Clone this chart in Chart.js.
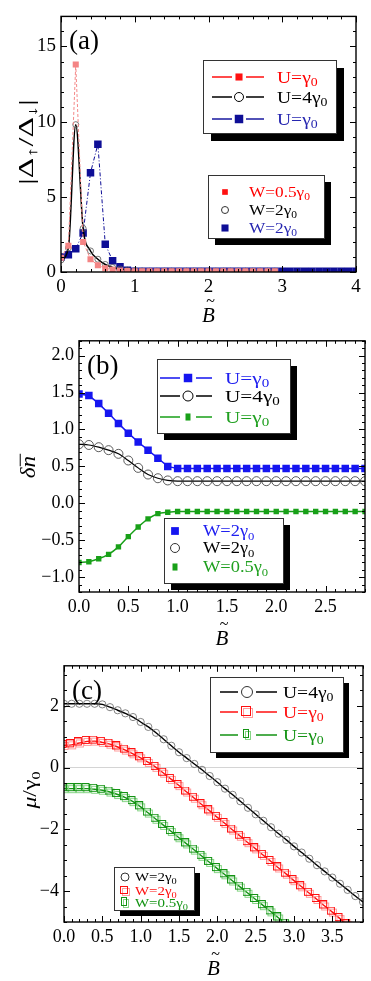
<!DOCTYPE html>
<html>
<head>
<meta charset="utf-8">
<script src="https://cdn.jsdelivr.net/npm/chart.js@4.4.1/dist/chart.umd.min.js"></script>
<style>
  html, body { margin: 0; padding: 0; background: #fff; }
  body { width: 371px; height: 981px; position: relative; overflow: hidden; }
  .panel { position: absolute; left: 0; width: 371px; }
</style>
</head>
<body>
<div class="panel" style="top:0;height:325px"><canvas id="chartA"></canvas></div>
<div class="panel" style="top:325px;height:325px"><canvas id="chartB"></canvas></div>
<div class="panel" style="top:650px;height:331px"><canvas id="chartC"></canvas></div>
<script>
// ---- panel (a): |Δ↑/Δ↓| vs B ----
const xA = [0, 0.1, 0.2, 0.3, 0.4, 0.5, 0.6, 0.7, 0.8, 0.9, 1.0, 1.1, 1.2, 1.3, 1.4, 1.5, 1.6, 1.7, 1.8, 1.9,
            2.0, 2.1, 2.2, 2.3, 2.4, 2.5, 2.6, 2.7, 2.8, 2.9, 3.0, 3.1, 3.2, 3.3, 3.4, 3.5, 3.6, 3.7, 3.8, 3.9, 4.0];
const pinkA = [0.95, 1.75, 13.8, 2.0, 0.85, 0.45, 0.25, 0.15, 0.10, 0.07,
               0.05, 0.05, 0.05, 0.05, 0.05, 0.05, 0.05, 0.05, 0.05, 0.05,
               0.05, 0.05, 0.05, 0.05, 0.05, 0.05, 0.05, 0.05, 0.05, 0.05];
const blackA = [0.80, 1.60, 9.80, 2.90, 1.40, 0.85, 0.50, 0.30, 0.20, 0.12,
                0.08, 0.06, 0.05, 0.05, 0.05, 0.05, 0.05, 0.05, 0.05, 0.05,
                0.05, 0.05, 0.05, 0.05, 0.05, 0.05, 0.05, 0.05, 0.05, 0.05];
const navyA = [1.00, 1.15, 1.55, 2.60, 6.60, 8.50, 1.85, 0.75, 0.35, 0.12,
               0.05, 0.05, 0.05, 0.05, 0.05, 0.05, 0.05, 0.05, 0.05, 0.05,
               0.05, 0.05, 0.05, 0.05, 0.05, 0.05, 0.05, 0.05, 0.05, 0.05,
               0.05, 0.05, 0.05, 0.05, 0.05, 0.05, 0.05, 0.05, 0.05, 0.05, 0.05];

// ---- panel (b): δn vs B ----
const xB = [0, 0.1, 0.2, 0.3, 0.4, 0.5, 0.6, 0.7, 0.8, 0.9, 1.0, 1.1, 1.2, 1.3, 1.4,
            1.5, 1.6, 1.7, 1.8, 1.9, 2.0, 2.1, 2.2, 2.3, 2.4, 2.5, 2.6, 2.7, 2.8, 2.9];
const blueB = [1.48, 1.46, 1.35, 1.22, 1.08, 0.95, 0.83, 0.72, 0.61, 0.50,
               0.47, 0.47, 0.47, 0.47, 0.47, 0.47, 0.47, 0.47, 0.47, 0.47,
               0.47, 0.47, 0.47, 0.47, 0.47, 0.47, 0.47, 0.47, 0.47, 0.47];
const blackB = [0.80, 0.79, 0.76, 0.72, 0.67, 0.58, 0.48, 0.39, 0.34, 0.31,
                0.30, 0.30, 0.30, 0.30, 0.30, 0.30, 0.30, 0.30, 0.30, 0.30,
                0.30, 0.30, 0.30, 0.30, 0.30, 0.30, 0.30, 0.30, 0.30, 0.30];
const greenB = [-0.80, -0.79, -0.75, -0.69, -0.59, -0.45, -0.32, -0.21, -0.14, -0.12,
                -0.11, -0.11, -0.11, -0.11, -0.11, -0.11, -0.11, -0.11, -0.11, -0.11,
                -0.11, -0.11, -0.11, -0.11, -0.11, -0.11, -0.11, -0.11, -0.11, -0.11];

// ---- panel (c): μ/γ0 vs B ----
const xC = [0, 0.1, 0.2, 0.3, 0.4, 0.5, 0.6, 0.7, 0.8, 0.9, 1.0, 1.1, 1.2, 1.3, 1.4, 1.5, 1.6, 1.7, 1.8, 1.9,
            2.0, 2.1, 2.2, 2.3, 2.4, 2.5, 2.6, 2.7, 2.8, 2.9, 3.0, 3.1, 3.2, 3.3, 3.4, 3.5, 3.6, 3.7, 3.8, 3.9];
const blackC = [2.07, 2.07, 2.07, 2.07, 2.07, 2.05, 1.96, 1.86, 1.76, 1.64,
                1.48, 1.32, 1.13, 0.92, 0.71, 0.50, 0.31, 0.12, -0.07, -0.27,
                -0.47, -0.68, -0.88, -1.09, -1.30, -1.51, -1.72, -1.93, -2.14, -2.34,
                -2.55, -2.75, -2.95, -3.16, -3.36, -3.56, -3.76, -3.96, -4.16, -4.35];
const redC = [0.72, 0.74, 0.80, 0.85, 0.86, 0.82, 0.76, 0.67, 0.57, 0.45,
              0.32, 0.17, 0.01, -0.18, -0.38, -0.58, -0.79, -0.99, -1.20, -1.40,
              -1.61, -1.81, -2.02, -2.22, -2.43, -2.63, -2.84, -3.04, -3.25, -3.45,
              -3.66, -3.86, -4.07, -4.27, -4.48, -4.68, -4.89, -5.09];
const greenC = [-0.68, -0.68, -0.68, -0.68, -0.70, -0.73, -0.79, -0.87, -0.97, -1.10,
                -1.27, -1.47, -1.67, -1.87, -2.07, -2.27, -2.47, -2.67, -2.87, -3.07,
                -3.27, -3.47, -3.67, -3.87, -4.07, -4.27, -4.47, -4.67, -4.87, -5.07];

const SERIF = '"Liberation Serif", "DejaVu Serif", serif';
Chart.defaults.font.family = SERIF;
Chart.defaults.color = '#000';
Chart.defaults.animation = false;

const toPoints = (xs, ys) => ys.map((v, i) => ({ x: xs[i], y: v }));

function fmt(d) {
    return v => (v < -1e-9 ? '\u2212' : '') + Math.abs(v).toFixed(d);
}

// text with subscripts: parts = [text, isSub, isItalic, hasBar]
function fontOf(p, size) {
    return `${p[2] ? 'italic ' : ''}${p[1] ? Math.round(size * 0.68) : size}px ${SERIF}`;
}

function richWidth(ctx, parts, size) {
    let w = 0;
    parts.forEach(p => {
        ctx.font = fontOf(p, size);
        w += ctx.measureText(p[0]).width;
    });
    return w;
}

function drawRich(ctx, parts, x, y, size) {
    let cx = x;
    parts.forEach(p => {
        ctx.font = fontOf(p, size);
        const w = ctx.measureText(p[0]).width;
        ctx.fillText(p[0], cx, p[1] ? y + size * 0.22 : y);
        if (p[3]) {
            ctx.save();
            ctx.strokeStyle = ctx.fillStyle;
            ctx.lineWidth = 1;
            ctx.beginPath();
            ctx.moveTo(cx + 1, y - size * 0.72);
            ctx.lineTo(cx + w + 2, y - size * 0.72);
            ctx.stroke();
            ctx.restore();
        }
        cx += w;
    });
}

function doubleSquare(dark, light, w, h) {
    const c = document.createElement("canvas");
    c.width = w + 4;
    c.height = h + 4;
    const g = c.getContext("2d");
    g.lineWidth = 1;
    g.strokeStyle = light;
    g.strokeRect(2.5, 2.5, w, h);
    g.strokeStyle = dark;
    g.strokeRect(0.5, 0.5, w, h);
    return c;
}

function drawMarker(ctx, m, x, y) {
    if (m.img) {
        ctx.drawImage(m.img, Math.round(x - m.img.width / 2), Math.round(y - m.img.height / 2));
        return;
    }
    ctx.beginPath();
    if (m.s === "circle") {
        ctx.arc(x, y, m.r, 0, Math.PI * 2);
    } else {
        const h = m.r * Math.SQRT1_2;
        const w = m.w ? m.w / 2 : h;
        ctx.rect(x - w, y - h, 2 * w, 2 * h);
    }
    ctx.fillStyle = m.fill || "#fff";
    ctx.fill();
    if (m.stroke) {
        ctx.strokeStyle = m.stroke;
        ctx.lineWidth = 1;
        ctx.stroke();
    }
}

function drawLegend(ctx, L) {
    ctx.fillStyle = "#000";
    ctx.fillRect(L.x + L.sh, L.y + L.sh, L.w, L.h);
    ctx.fillStyle = "#fff";
    ctx.fillRect(L.x, L.y, L.w, L.h);
    ctx.strokeStyle = "#333";
    ctx.lineWidth = 1;
    ctx.strokeRect(L.x + 0.5, L.y + 0.5, L.w, L.h);

    L.rows.forEach((r, i) => {
        const cy = L.rowY[i];
        if (r.dash) {
            const gap = L.gap || 8;
            ctx.save();
            ctx.strokeStyle = r.lc;
            ctx.lineWidth = 1.4;
            ctx.beginPath();
            ctx.moveTo(L.lx0, cy);
            ctx.lineTo(L.mx - gap, cy);
            ctx.moveTo(L.mx + gap, cy);
            ctx.lineTo(L.lx1, cy);
            ctx.stroke();
            ctx.restore();
        }
        drawMarker(ctx, r.mk, L.mx, cy);
        ctx.fillStyle = r.tc;
        ctx.textAlign = "left";
        ctx.textBaseline = "alphabetic";
        ctx.save();
        ctx.translate(L.tx, cy + L.fs * 0.33);
        ctx.scale(L.sx || 1.15, 1);
        drawRich(ctx, r.parts, 0, 0, L.fs);
        ctx.restore();
    });
}

function makeDecor(cfg) {
    return {
        id: "decor" + cfg.name,
        afterDraw(chart) {
            const { ctx, chartArea: a, scales } = chart;
            const x = scales.x;
            const y = scales.y;
            ctx.save();

            // inward frame ticks, Mathematica style
            const steps = (scale, step) => {
                const out = [];
                const i0 = Math.ceil(scale.min / step - 1e-6);
                const i1 = Math.floor(scale.max / step + 1e-6);
                for (let i = i0; i <= i1; i++) out.push(i * step);
                return out;
            };
            const xt = (v, len) => {
                const p = Math.round(x.getPixelForValue(v)) + 0.5;
                ctx.moveTo(p, a.bottom);
                ctx.lineTo(p, a.bottom - len);
                ctx.moveTo(p, a.top);
                ctx.lineTo(p, a.top + len);
            };
            const yt = (v, len) => {
                const p = Math.round(y.getPixelForValue(v)) + 0.5;
                ctx.moveTo(a.left, p);
                ctx.lineTo(a.left + len, p);
                ctx.moveTo(a.right, p);
                ctx.lineTo(a.right - len, p);
            };
            ctx.strokeStyle = "#000";
            ctx.lineWidth = 1;
            ctx.beginPath();
            steps(x, cfg.xMinor).forEach(v => xt(v, 3));
            steps(y, cfg.yMinor).forEach(v => yt(v, 3));
            x.ticks.forEach(t => xt(t.value, 6));
            y.ticks.forEach(t => yt(t.value, 6));
            ctx.stroke();

            ctx.lineWidth = 1.4;
            ctx.strokeRect(a.left, a.top, a.right - a.left, a.bottom - a.top);

            // panel label
            ctx.fillStyle = "#000";
            ctx.textAlign = "left";
            ctx.textBaseline = "alphabetic";
            ctx.font = `27px ${SERIF}`;
            ctx.fillText(cfg.label, a.left + 8, a.top + 33);

            // x title: B with tilde
            const cx = (a.left + a.right) / 2;
            ctx.textAlign = "center";
            ctx.font = `italic 21px ${SERIF}`;
            ctx.fillText("B", cx, cfg.xTitleY);
            ctx.font = `16px ${SERIF}`;
            ctx.fillText("~", cx + 2, cfg.xTitleY - 16);

            // y title, rotated
            const T = cfg.yTitle;
            ctx.textAlign = "left";
            ctx.save();
            ctx.translate(T.x, T.y);
            ctx.rotate(-Math.PI / 2);
            ctx.scale(T.sx, 1);
            const w = richWidth(ctx, T.parts, T.size);
            drawRich(ctx, T.parts, -w / 2, T.size * 0.35, T.size);
            ctx.restore();

            cfg.legends.forEach(L => drawLegend(ctx, L));
            ctx.restore();
        }
    };
}

function makeScales(o) {
    return {
        x: {
            type: "linear",
            min: o.xMin,
            max: o.xMax,
            afterFit: s => { s.height = o.xH; },
            border: { display: false },
            grid: { display: false, drawTicks: false },
            ticks: {
                stepSize: o.xStep,
                includeBounds: false,
                autoSkip: false,
                maxRotation: 0,
                padding: 4,
                font: { size: o.fs },
                callback: fmt(o.xDec)
            }
        },
        y: {
            type: "linear",
            min: o.yMin,
            max: o.yMax,
            afterFit: s => { s.width = o.yW; },
            border: { display: false },
            grid: {
                display: !!o.zeroLine,
                drawTicks: false,
                color: c => (c.tick && c.tick.value === 0) ? "#d4d4d4" : "rgba(0,0,0,0)"
            },
            ticks: {
                stepSize: o.yStep,
                includeBounds: false,
                autoSkip: false,
                padding: 5,
                font: { size: o.fs },
                callback: fmt(o.yDec)
            }
        }
    };
}

const U1 = [["U=\u03b3", false], ["0", true]];
const U4 = [["U=4\u03b3", false], ["0", true]];
const W2 = [["W=2\u03b3", false], ["0", true]];
const W05 = [["W=0.5\u03b3", false], ["0", true]];

// ---------- (a) ----------
new Chart(document.getElementById("chartA"), {
    type: "line",
    data: {
        datasets: [
            {
                data: toPoints(xA, navyA),
                borderColor: "#0e0e96",
                borderWidth: 1,
                borderDash: [4, 2, 1, 2],
                pointStyle: "rect",
                pointRadius: 5.3,
                pointBackgroundColor: "#0e0e96",
                pointBorderWidth: 0,
                order: 3
            },
            {
                data: toPoints(xA, blackA),
                borderColor: "#000",
                borderWidth: 1.5,
                cubicInterpolationMode: "monotone",
                pointStyle: "circle",
                pointRadius: 3,
                pointBackgroundColor: "rgba(0,0,0,0)",
                pointBorderColor: "#555",
                pointBorderWidth: 0.8,
                order: 2
            },
            {
                data: toPoints(xA, pinkA),
                borderColor: "#f48888",
                borderWidth: 1,
                borderDash: [3, 2],
                pointStyle: "rect",
                pointRadius: 4.3,
                pointBackgroundColor: "#f48484",
                pointBorderWidth: 0,
                order: 1
            }
        ]
    },
    options: {
        responsive: true,
        maintainAspectRatio: false,
        layout: { padding: { left: 0, top: 5, right: 15, bottom: 0 } },
        plugins: { legend: { display: false }, tooltip: { enabled: false } },
        scales: makeScales({ xMin: 0, xMax: 4, xStep: 1, xDec: 0, yMin: 0, yMax: 17, yStep: 5, yDec: 0, xH: 53, yW: 61, fs: 19 })
    },
    plugins: [makeDecor({
        name: "A", label: "(a)", xMinor: 0.2, yMinor: 1, xTitleY: 322,
        yTitle: { x: 26, y: 142, size: 20, sx: 1.6, parts: [["|\u0394", false], ["\u2191", true], ["/\u0394", false], ["\u2193", true], ["|", false]] },
        legends: [
            {
                x: 203, y: 60, w: 133, h: 73, sh: 8, fs: 17,
                rowY: [77, 97, 119], lx0: 212, lx1: 264, mx: 239, tx: 277, gap: 7,
                rows: [
                    { dash: true, lc: "#ff1010", mk: { s: "rect", r: 5, fill: "#ff1010" }, tc: "#ff0000", parts: U1 },
                    { dash: true, lc: "#000", mk: { s: "circle", r: 4.5, stroke: "#000" }, tc: "#000", parts: U4 },
                    { dash: true, lc: "#1a1aa0", mk: { s: "rect", r: 6, fill: "#0e0e96" }, tc: "#2626b0", parts: U1 }
                ]
            },
            {
                x: 208, y: 175, w: 116, h: 63, sh: 7, fs: 15,
                rowY: [192, 210, 228], mx: 225, tx: 249,
                rows: [
                    { mk: { s: "rect", r: 4, fill: "#ff1010" }, tc: "#ff0000", parts: W05 },
                    { mk: { s: "circle", r: 3.5, stroke: "#333" }, tc: "#000", parts: W2 },
                    { mk: { s: "rect", r: 5, fill: "#0e0e96" }, tc: "#2626b0", parts: W2 }
                ]
            }
        ]
    })]
});

// ---------- (b) ----------
new Chart(document.getElementById("chartB"), {
    type: "line",
    data: {
        datasets: [
            {
                data: toPoints(xB, blueB),
                borderColor: "#1515f0",
                borderWidth: 1.5,
                pointStyle: "rect",
                pointRadius: 5.3,
                pointBackgroundColor: "#1515f0",
                pointBorderWidth: 0
            },
            {
                data: toPoints(xB, blackB),
                borderColor: "#000",
                borderWidth: 1.2,
                cubicInterpolationMode: "monotone",
                pointStyle: "circle",
                pointRadius: 4.5,
                pointBackgroundColor: "rgba(0,0,0,0)",
                pointBorderColor: "#333",
                pointBorderWidth: 0.8
            },
            {
                data: toPoints(xB, greenB),
                borderColor: "#18a018",
                borderWidth: 1.5,
                cubicInterpolationMode: "monotone",
                pointStyle: "rect",
                pointRadius: 3.8,
                pointBackgroundColor: "#18a018",
                pointBorderWidth: 0
            }
        ]
    },
    options: {
        responsive: true,
        maintainAspectRatio: false,
        layout: { padding: { left: 0, top: 10, right: 6, bottom: 0 } },
        plugins: { legend: { display: false }, tooltip: { enabled: false } },
        scales: makeScales({ xMin: 0, xMax: 2.9, xStep: 0.5, xDec: 1, yMin: -1.2, yMax: 2.2, yStep: 0.5, yDec: 1, xH: 58, yW: 79, fs: 18 })
    },
    plugins: [makeDecor({
        name: "B", label: "(b)", xMinor: 0.1, yMinor: 0.1, xTitleY: 320,
        yTitle: { x: 28, y: 142, size: 21, sx: 1.1, parts: [["\u03b4", false, true], ["n", false, true, true]] },
        legends: [
            {
                x: 157, y: 34, w: 133, h: 74, sh: 7, fs: 17, sx: 1.25,
                rowY: [53, 71, 92], lx0: 160, lx1: 212, mx: 188, tx: 225, gap: 8,
                rows: [
                    { dash: true, lc: "#1515f0", mk: { s: "rect", r: 6, fill: "#1515f0" }, tc: "#2020f0", parts: U1 },
                    { dash: true, lc: "#000", mk: { s: "circle", r: 5, stroke: "#000" }, tc: "#000", parts: U4 },
                    { dash: true, lc: "#18a018", mk: { s: "rect", r: 5, w: 5, fill: "#18a018" }, tc: "#20a020", parts: U1 }
                ]
            },
            {
                x: 164, y: 193, w: 119, h: 65, sh: 7, fs: 16,
                rowY: [206, 223, 242], mx: 175, tx: 203,
                rows: [
                    { mk: { s: "rect", r: 5.5, fill: "#1515f0" }, tc: "#2020f0", parts: W2 },
                    { mk: { s: "circle", r: 4.5, stroke: "#333" }, tc: "#000", parts: W2 },
                    { mk: { s: "rect", r: 5, w: 5, fill: "#18a018" }, tc: "#20a020", parts: W05 }
                ]
            }
        ]
    })]
});

// ---------- (c) ----------
const redMark = doubleSquare("#ff1010", "#ff9c9c", 7, 7);
const greenMark = doubleSquare("#139313", "#86d586", 7, 7);
const greenLegMark = doubleSquare("#139313", "#86d586", 5, 8);

new Chart(document.getElementById("chartC"), {
    type: "line",
    data: {
        datasets: [
            {
                data: toPoints(xC, blackC),
                borderColor: "#000",
                borderWidth: 1.4,
                cubicInterpolationMode: "monotone",
                pointStyle: "circle",
                pointRadius: 3.6,
                pointBackgroundColor: "rgba(0,0,0,0)",
                pointBorderColor: "#666",
                pointBorderWidth: 0.8
            },
            {
                data: toPoints(xC, redC),
                borderColor: "#ff1010",
                borderWidth: 1.4,
                cubicInterpolationMode: "monotone",
                pointStyle: redMark,
                pointRadius: 4
            },
            {
                data: toPoints(xC, greenC),
                borderColor: "#139313",
                borderWidth: 1.4,
                cubicInterpolationMode: "monotone",
                pointStyle: greenMark,
                pointRadius: 4
            }
        ]
    },
    options: {
        responsive: true,
        maintainAspectRatio: false,
        layout: { padding: { left: 0, top: 5, right: 8, bottom: 0 } },
        plugins: { legend: { display: false }, tooltip: { enabled: false } },
        scales: makeScales({ xMin: 0, xMax: 3.9, xStep: 0.5, xDec: 1, yMin: -5, yMax: 3.3, yStep: 2, yDec: 0, xH: 59, yW: 64, fs: 18, zeroLine: true })
    },
    plugins: [makeDecor({
        name: "C", label: "(c)", xMinor: 0.1, yMinor: 0.5, xTitleY: 325,
        yTitle: { x: 29, y: 140, size: 19, sx: 1.25, parts: [["\u03bc", false, true], ["/\u03b3", false], ["0", true]] },
        legends: [
            {
                x: 210, y: 27, w: 133, h: 75, sh: 6, fs: 17,
                rowY: [42, 62, 85], lx0: 220, lx1: 277, mx: 247, tx: 283, gap: 9,
                rows: [
                    { dash: true, lc: "#000", mk: { s: "circle", r: 5.5, stroke: "#333" }, tc: "#000", parts: U4 },
                    { dash: true, lc: "#ff1010", mk: { img: doubleSquare("#ff1010", "#ff9c9c", 9, 9) }, tc: "#ff1010", parts: U1 },
                    { dash: true, lc: "#139313", mk: { img: greenLegMark }, tc: "#139313", parts: U1 }
                ]
            },
            {
                x: 114, y: 217, w: 80, h: 43, sh: 6, fs: 13,
                rowY: [227, 241, 253], mx: 125, tx: 135,
                rows: [
                    { mk: { s: "circle", r: 4, stroke: "#333" }, tc: "#000", parts: W2 },
                    { mk: { img: redMark }, tc: "#ff1010", parts: W2 },
                    { mk: { img: greenLegMark }, tc: "#139313", parts: W05 }
                ]
            }
        ]
    })]
});
</script>
</body>
</html>
